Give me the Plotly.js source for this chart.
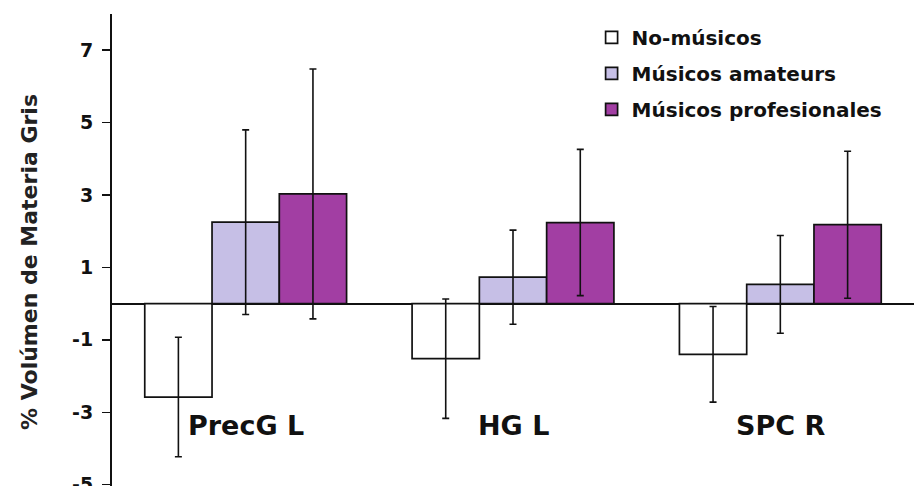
<!DOCTYPE html>
<html>
<head>
<meta charset="utf-8">
<script src="https://cdn.plot.ly/plotly-3.0.1.min.js"></script>
<style>html,body{margin:0;padding:0;background:#fff;overflow:hidden;}#wrap{width:914px;height:486px;overflow:hidden;}#chart{width:914px;height:510px;}</style>
</head>
<body>
<div id="wrap"><div id="chart"></div></div>
<script>
const categories = ["PrecG L", "HG L", "SPC R"];
const seriesNames = ["No-músicos", "Músicos amateurs", "Músicos profesionales"];
const noMusicos = [-2.58, -1.52, -1.40];
const noMusicosErr = [1.65, 1.65, 1.32];
const amateurs = [2.25, 0.73, 0.53];
const amateursErr = [2.55, 1.30, 1.35];
const profesionales = [3.03, 2.24, 2.18];
const profesionalesErr = [3.45, 2.02, 2.03];
const yTicks = [-5, -3, -1, 1, 3, 5, 7];

const FONT = "'DejaVu Sans', Verdana, sans-serif";
const fills = ["#ffffff", "#c6bfe6", "#a23ea3"];
const values = [noMusicos, amateurs, profesionales];
const errs = [noMusicosErr, amateursErr, profesionalesErr];

const traces = values.map((v, i) => ({
  type: "bar",
  name: "<b>" + seriesNames[i] + "</b>",
  legendgroup: "g" + i,
  x: categories,
  y: v,
  marker: {color: fills[i], line: {color: "#111", width: 1.7}},
  error_y: {type: "data", array: errs[i], visible: true, color: "#111", thickness: 1.6, width: 3.5}
}));

const annotations = categories.map((c) => ({
  x: c, y: -3.36, xref: "x", yref: "y", text: "<b>" + c + "</b>", showarrow: false,
  font: {family: FONT, size: 27, color: "#111"}
}));

const layout = {
  width: 914, height: 510,
  margin: {l: 112, r: 0, t: 14, b: 0},
  paper_bgcolor: "#fff", plot_bgcolor: "#fff",
  barmode: "group", bargap: 0.245, bargroupgap: 0,
  showlegend: true,
  legend: {x: 0.598, y: 0.992, xanchor: "left", yanchor: "top", bgcolor: "rgba(0,0,0,0)",
    traceorder: "grouped", tracegroupgap: 7, itemwidth: 30,
    font: {family: FONT, size: 20, color: "#111"}},
  xaxis: {range: [-0.5, 2.5], showticklabels: false, showline: false, ticks: "", showgrid: false, zeroline: false, fixedrange: true},
  yaxis: {range: [-5.70, 8.0], tickvals: yTicks, ticktext: yTicks.map(t => "<b>" + t + "</b>"),
    ticks: "outside", ticklen: 8, tickwidth: 1.5, tickcolor: "#111", ticklabelstandoff: 5,
    showline: true, linecolor: "#111", linewidth: 2,
    showgrid: false, zeroline: true, zerolinecolor: "#111", zerolinewidth: 2,
    tickfont: {family: FONT, size: 19, color: "#111"},
    title: {text: "<b>% Volúmen de Materia Gris</b>", standoff: 28,
      font: {family: FONT, size: 22, color: "#222"}}},
  annotations: annotations
};

Plotly.newPlot("chart", traces, layout, {displayModeBar: false, staticPlot: true});
</script>
</body>
</html>
